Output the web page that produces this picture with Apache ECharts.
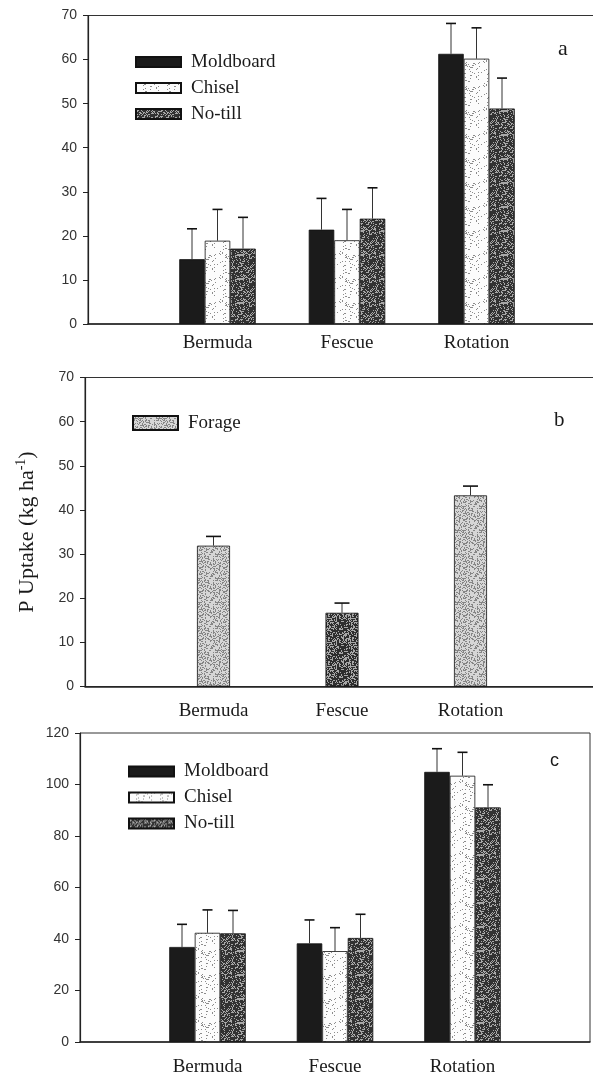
<!DOCTYPE html>
<html><head><meta charset="utf-8">
<script src="https://cdn.jsdelivr.net/npm/echarts/dist/echarts.min.js"></script>
<style>html,body{margin:0;padding:0;background:#fff}#c{width:593px;height:1077px}</style>
</head><body><div id="c"></div>
<script>
// ---------- data ----------
const categories = ['Bermuda', 'Fescue', 'Rotation'];
const tillNames = ['Moldboard', 'Chisel', 'No-till'];
const forageName = 'Forage';
const yTicksAB = [0, 10, 20, 30, 40, 50, 60, 70];
const yTicksC = [0, 20, 40, 60, 80, 100, 120];
// panel a
const moldA = [14.7, 21.4, 61.3];
const moldAErr = [6.9, 7.1, 6.9];
const chiselA = [18.9, 19.0, 60.2];
const chiselAErr = [7.1, 7.0, 7.0];
const notillA = [17.1, 23.9, 48.9];
const notillAErr = [7.1, 7.0, 6.9];
// panel b
const forageB = [31.9, 16.7, 43.3];
const forageBErr = [2.1, 2.2, 2.1];
// panel c
const moldC = [36.9, 38.3, 104.9];
const moldCErr = [8.8, 9.1, 9.0];
const chiselC = [42.4, 35.3, 103.4];
const chiselCErr = [8.9, 9.1, 9.1];
const notillC = [42.2, 40.4, 91.1];
const notillCErr = [8.9, 9.2, 8.8];

// ---------- styles ----------
function makePattern(size, bg, fg, density, seed) {
  const c = document.createElement('canvas');
  c.width = c.height = size;
  const ctx = c.getContext('2d');
  ctx.fillStyle = bg; ctx.fillRect(0, 0, size, size);
  ctx.fillStyle = fg;
  for (let y = 0; y < size; y++) for (let x = 0; x < size; x++) {
    let h = (Math.imul(x + 1, 374761393) + Math.imul(y + 1, 668265263) + Math.imul(seed, 1013904223)) >>> 0;
    h = Math.imul(h ^ (h >>> 13), 1274126177) >>> 0;
    h = (h ^ (h >>> 16)) >>> 0;
    if ((h % 1000) / 1000 < density) ctx.fillRect(x, y, 1, 1);
  }
  return { image: c, repeat: 'repeat' };
}
const colMold = '#1b1b1b';
const patChisel = makePattern(24, '#fcfcfc', '#8c8c8c', 0.10, 3);
const patNotill = makePattern(24, '#323232', '#a8a8a8', 0.28, 7);
const patForage = makePattern(24, '#d6d6d6', '#858585', 0.33, 11);
const patForageDark = makePattern(24, '#2e2e2e', '#a8a8a8', 0.35, 5);
const SERIF = 'Liberation Serif, Times New Roman, serif';
const SANS = 'Liberation Sans, Arial, sans-serif';

const grids = [
  { left: 88, top: 15.5, width: 518, height: 308.5 },
  { left: 85, top: 377.5, width: 514, height: 309 },
  { left: 80, top: 733, width: 510, height: 309 }
].map(g => Object.assign(g, { show: true, borderColor: '#333', borderWidth: 1, backgroundColor: 'transparent', outerBoundsMode: 'none', containLabel: false }));

const xCats = [''].concat(categories, ['']);
const labelMargins = [10, 15, 16];
const xAxes = [0, 1, 2].map(i => ({
  type: 'category', gridIndex: i, data: xCats, boundaryGap: false,
  axisLine: { lineStyle: { color: '#222', width: 1.5 } },
  axisTick: { show: false },
  axisLabel: { fontFamily: SERIF, fontSize: 19, color: '#1a1a1a', margin: labelMargins[i], interval: 0 },
  splitLine: { show: false }
}));
function yAxis(i, ticks, extra) {
  return Object.assign({
    type: 'value', gridIndex: i, min: ticks[0], max: ticks[ticks.length - 1],
    interval: ticks[1] - ticks[0],
    axisLine: { show: true, lineStyle: { color: '#222', width: 1.2 } },
    axisTick: { show: true, inside: false, length: 5, lineStyle: { color: '#222' } },
    axisLabel: { fontFamily: SANS, fontSize: 14, color: '#333', margin: 11 },
    splitLine: { show: false }
  }, extra || {});
}
const yAxes = [
  yAxis(0, yTicksAB),
  yAxis(1, yTicksAB, {
    name: 'P Uptake (kg ha{sup|-1})', nameLocation: 'middle', nameGap: 45, nameRotate: 90,
    nameTextStyle: { fontFamily: SERIF, fontSize: 22, color: '#1a1a1a', lineHeight: 26,
      rich: { sup: { fontFamily: SERIF, fontSize: 14, verticalAlign: 'top', lineHeight: 14, color: '#1a1a1a' } } }
  }),
  yAxis(2, yTicksC)
];

function barSeries(name, gi, vals, color, bw) {
  return {
    type: 'bar', name, xAxisIndex: gi, yAxisIndex: gi,
    data: vals.map((v, i) => [i + 1, v]),
    barWidth: bw, barGap: '0%',
    itemStyle: { color, borderColor: '#111', borderWidth: 0.8 },
    emphasis: { disabled: true }, animation: false, z: 2
  };
}
function errSeries(name, gi, vals, errs, idx, n, bw, capW) {
  return {
    type: 'custom', name, xAxisIndex: gi, yAxisIndex: gi, z: 3, animation: false,
    data: vals.map((v, i) => [i + 1, v, errs[i]]),
    renderItem: (params, api) => {
      const base = api.coord([api.value(0), api.value(1)]);
      const top = api.coord([api.value(0), api.value(1) + api.value(2)]);
      const x = base[0] + (idx - (n - 1) / 2) * bw;
      return { type: 'group', children: [
        { type: 'line', shape: { x1: x, y1: base[1], x2: x, y2: top[1] }, style: { stroke: '#333', lineWidth: 1 } },
        { type: 'line', shape: { x1: x - capW / 2, y1: top[1], x2: x + capW / 2, y2: top[1] }, style: { stroke: '#111', lineWidth: 1.6 } }
      ] };
    }
  };
}
const BW = 25.5, BWB = 33;
const forageBar = barSeries(forageName, 1, forageB, patForage, BWB);
forageBar.data[1] = { value: [2, forageB[1]], itemStyle: { color: patForageDark } };

const series = [
  barSeries(tillNames[0], 0, moldA, colMold, BW),
  barSeries(tillNames[1], 0, chiselA, patChisel, BW),
  barSeries(tillNames[2], 0, notillA, patNotill, BW),
  errSeries('eA0', 0, moldA, moldAErr, 0, 3, BW, 10),
  errSeries('eA1', 0, chiselA, chiselAErr, 1, 3, BW, 10),
  errSeries('eA2', 0, notillA, notillAErr, 2, 3, BW, 10),
  forageBar,
  errSeries('eB0', 1, forageB, forageBErr, 0, 1, BWB, 15),
  barSeries(tillNames[0], 2, moldC, colMold, BW),
  barSeries(tillNames[1], 2, chiselC, patChisel, BW),
  barSeries(tillNames[2], 2, notillC, patNotill, BW),
  errSeries('eC0', 2, moldC, moldCErr, 0, 3, BW, 10),
  errSeries('eC1', 2, chiselC, chiselCErr, 1, 3, BW, 10),
  errSeries('eC2', 2, notillC, notillCErr, 2, 3, BW, 10)
];

const legendText = { fontFamily: SERIF, fontSize: 19, color: '#1a1a1a', lineHeight: 20, padding: [0, 0, 0, 5] };
const legends = [
  { data: tillNames, left: 135, top: 52, orient: 'vertical', itemWidth: 45, itemHeight: 10, itemGap: 6, padding: 0, icon: 'rect', textStyle: legendText, selectedMode: false },
  { data: [forageName], left: 132, top: 413, orient: 'vertical', itemWidth: 45, itemHeight: 14, padding: 0, icon: 'rect', textStyle: legendText, selectedMode: false },
  { data: tillNames, left: 128, top: 761.5, orient: 'vertical', itemWidth: 45, itemHeight: 10, itemGap: 6, padding: 0, icon: 'rect', textStyle: legendText, selectedMode: false }
];
const titles = [
  { text: 'a', left: 558, top: 38, textStyle: { fontFamily: SERIF, fontSize: 22, fontWeight: 'normal', color: '#1a1a1a' }, padding: 0 },
  { text: 'b', left: 554, top: 410, textStyle: { fontFamily: SERIF, fontSize: 21, fontWeight: 'normal', color: '#1a1a1a' }, padding: 0 },
  { text: 'c', left: 550, top: 752, textStyle: { fontFamily: SANS, fontSize: 18, fontWeight: 'normal', color: '#1a1a1a' }, padding: 0 }
];

const chart = echarts.init(document.getElementById('c'), null, { renderer: 'canvas' });
chart.setOption({
  backgroundColor: '#fff', animation: false,
  title: titles, legend: legends, grid: grids, xAxis: xAxes, yAxis: yAxes, series
});
</script></body></html>
